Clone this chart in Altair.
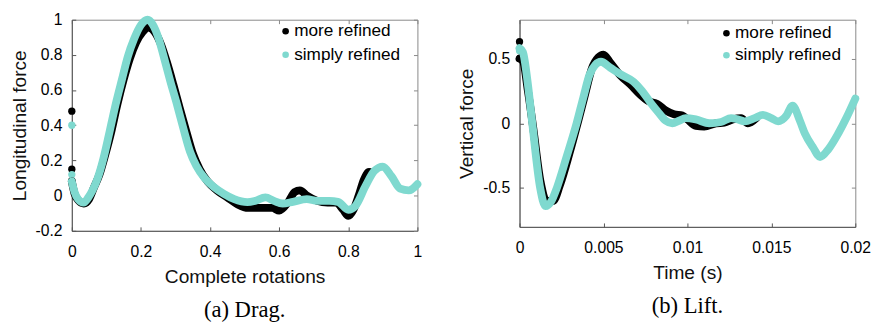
import altair as alt
import pandas as pd

SERIES = ["more refined", "simply refined"]
COLORS = ["#000000", "#7fd9cf"]

# ---------------- (a) Drag ----------------
drag_more_x = [0.0, 0.008, 0.018, 0.035, 0.05, 0.065, 0.08, 0.095, 0.115, 0.132, 0.15, 0.168, 0.186,
               0.205, 0.222, 0.24, 0.258, 0.275, 0.294, 0.312, 0.332, 0.35, 0.37, 0.393, 0.42, 0.45,
               0.48, 0.51, 0.55, 0.58, 0.6, 0.625, 0.645, 0.66, 0.68, 0.71, 0.74, 0.765, 0.785, 0.8,
               0.815, 0.83, 0.845, 0.86, 0.868]
drag_more_y = [0.08, 0.01, -0.025, -0.045, -0.02, 0.05, 0.12, 0.22, 0.37, 0.52, 0.66, 0.78, 0.87,
               0.93, 0.955, 0.93, 0.86, 0.76, 0.63, 0.5, 0.36, 0.24, 0.15, 0.08, 0.03, -0.01,
               -0.05, -0.07, -0.07, -0.07, -0.085, -0.04, 0.02, 0.03, 0.0, -0.03, -0.04, -0.04, -0.08, -0.115,
               -0.08, 0.0, 0.09, 0.135, 0.13]
drag_simply_x = [0.0, 0.008, 0.018, 0.034, 0.048, 0.06, 0.075, 0.09, 0.11, 0.127, 0.145, 0.162, 0.18,
                 0.2, 0.219, 0.235, 0.25, 0.266, 0.285, 0.304, 0.323, 0.342, 0.36, 0.384, 0.41, 0.44,
                 0.47, 0.508, 0.53, 0.56, 0.585, 0.61, 0.64, 0.68, 0.71, 0.745, 0.77, 0.8, 0.82,
                 0.85, 0.875, 0.9, 0.925, 0.95, 0.975, 1.0]
drag_simply_y = [0.08, 0.02, -0.02, -0.04, -0.01, 0.03, 0.1, 0.2, 0.37, 0.52, 0.66, 0.79, 0.89,
                 0.97, 1.0, 0.97, 0.9, 0.79, 0.65, 0.52, 0.38, 0.25, 0.17, 0.1, 0.05, 0.01,
                 -0.02, -0.037, -0.03, -0.01, -0.03, -0.045, -0.035, -0.02, -0.03, -0.03, -0.035, -0.08, -0.06,
                 0.055, 0.14, 0.165, 0.11, 0.04, 0.03, 0.065]
drag_dots_more = [0.48, 0.15, 0.085]
drag_dots_simply = [0.40, 0.12]

# ---------------- (b) Lift ----------------
lift_more_t = [0.0, 0.0002, 0.0005, 0.0008, 0.00125, 0.0016, 0.002, 0.0024, 0.003, 0.0035, 0.0039,
               0.0043, 0.0047, 0.005, 0.0054, 0.006, 0.0066, 0.0072, 0.0077, 0.0082, 0.0087, 0.0092,
               0.0097, 0.01, 0.0105, 0.011, 0.0117, 0.0122, 0.0127, 0.0132, 0.0136, 0.0141]
lift_more_y = [0.5, 0.48, 0.25, -0.02, -0.45, -0.6, -0.6, -0.48, -0.22, 0.02, 0.22,
               0.42, 0.51, 0.53, 0.47, 0.37, 0.3, 0.22, 0.17, 0.15, 0.1, 0.07,
               0.06, 0.03, -0.02, -0.025, 0.0, 0.005, 0.03, 0.04, 0.0, 0.04]
lift_simply_t = [0.0, 0.0002, 0.0005, 0.00076, 0.00123, 0.00154, 0.0019, 0.00222, 0.0028, 0.0034, 0.0038,
                 0.00417, 0.0045, 0.00485, 0.0054, 0.006, 0.0068, 0.0073, 0.0078, 0.0083, 0.0087, 0.0091,
                 0.0095, 0.0099, 0.0105, 0.0113, 0.012, 0.0126, 0.013, 0.0134, 0.014, 0.0145, 0.0150,
                 0.0154, 0.0159, 0.01626, 0.0167, 0.017, 0.0175, 0.0179, 0.0184, 0.019, 0.0195, 0.02]
lift_simply_y = [0.58, 0.55, 0.3, 0.0, -0.5, -0.64, -0.6, -0.5, -0.26, 0.0, 0.2,
                 0.375, 0.45, 0.475, 0.43, 0.38, 0.32, 0.25, 0.16, 0.08, 0.02, 0.0,
                 0.02, 0.04, 0.03, 0.0, 0.01, 0.04, 0.03, 0.015, 0.04, 0.065, 0.04,
                 0.015, 0.06, 0.137, 0.02, -0.08, -0.19, -0.26, -0.2, -0.075, 0.05, 0.19]
lift_dots_more = [0.63, 0.5]
lift_dots_simply = [0.56]


def frame(mx, my, sx, sy):
    rows = [{"x": a, "y": b, "series": SERIES[0]} for a, b in zip(mx, my)]
    rows += [{"x": a, "y": b, "series": SERIES[1]} for a, b in zip(sx, sy)]
    return pd.DataFrame(rows)


def dots_frame(more, simply):
    rows = [{"x": 0.0, "y": v, "series": SERIES[0]} for v in more]
    rows += [{"x": 0.0, "y": v, "series": SERIES[1]} for v in simply]
    return pd.DataFrame(rows)


INWARD = alt.ExprRef(expr="-4")


def panel(lines_df, dots_df, xdom, ydom, xvals, yvals, xtitle, ytitle, caption, w, h, legx, legy, rowpad):
    xs = alt.Scale(domain=xdom, nice=False, zero=False)
    ys = alt.Scale(domain=ydom, nice=False, zero=False)
    xaxis = alt.Axis(values=xvals, labelExpr="'' + datum.value", title=xtitle, tickSize=INWARD,
                     labelPadding=17, titlePadding=9, labelFlush=False, labelOverlap=False,
                     domainColor="#555", tickColor="#555")
    yaxis = alt.Axis(values=yvals, labelExpr="'' + datum.value", title=ytitle, tickSize=INWARD,
                     labelPadding=14, titlePadding=6, labelOverlap=False,
                     domainColor="#555", tickColor="#555")
    cscale = alt.Scale(domain=SERIES, range=COLORS)
    color_nolegend = alt.Color("series:N", scale=cscale, legend=None)
    color_legend = alt.Color(
        "series:N", scale=cscale,
        legend=alt.Legend(title=None, orient="none", legendX=legx, legendY=legy, padding=0,
                          labelFontSize=17.5, labelFont="Liberation Sans", labelColor="black",
                          symbolSize=45, symbolType="circle", rowPadding=rowpad, labelOffset=0))
    dots = alt.Chart(dots_df).mark_circle(size=55, opacity=1).encode(
        x=alt.X("x:Q", scale=xs, axis=xaxis),
        y=alt.Y("y:Q", scale=ys, axis=yaxis),
        color=color_legend,
    )
    lines = alt.Chart(lines_df).mark_line(
        strokeWidth=8, strokeCap="round", strokeJoin="round", interpolate="monotone"
    ).encode(
        x=alt.X("x:Q", scale=xs, axis=None),
        y=alt.Y("y:Q", scale=ys, axis=None),
        color=color_nolegend,
    )
    mirror = alt.Chart(dots_df).mark_point(opacity=0).encode(
        x=alt.X("x:Q", scale=xs, axis=alt.Axis(orient="top", values=xvals, labels=False, title=None,
                                                domain=False, tickSize=INWARD, tickColor="#888",
                                                minExtent=0, maxExtent=0)),
        y=alt.Y("y:Q", scale=ys, axis=alt.Axis(orient="right", values=yvals, labels=False, title=None,
                                                domain=False, tickSize=INWARD, tickColor="#888",
                                                minExtent=0, maxExtent=0)),
    )
    return alt.layer(dots, lines, mirror).resolve_axis(
        x="independent", y="independent"
    ).resolve_scale(color="independent").properties(
        width=w, height=h,
        title=alt.TitleParams(caption, orient="bottom", font="Liberation Serif", fontSize=23,
                              fontWeight="normal", color="black", anchor="middle", offset=13),
    )


drag_lines = frame(drag_more_x, drag_more_y, drag_simply_x, drag_simply_y)
lift_lines = frame(lift_more_t, lift_more_y, lift_simply_t, lift_simply_y)

left = panel(drag_lines, dots_frame(drag_dots_more, drag_dots_simply),
             [0, 1], [-0.2, 1], [0, 0.2, 0.4, 0.6, 0.8, 1], [-0.2, 0, 0.2, 0.4, 0.6, 0.8, 1],
             "Complete rotations", "Longitudinal force", "(a) Drag.", 352, 215, 209, 3, 5)
right = panel(lift_lines, dots_frame(lift_dots_more, lift_dots_simply),
              [0, 0.02], [-0.8, 0.8], [0, 0.005, 0.01, 0.015, 0.02], [-0.5, 0, 0.5],
              "Time (s)", "Vertical force", "(b) Lift.", 342, 211, 202, 5, 3.5)

chart = alt.hconcat(left, right, spacing=34).resolve_scale(color="independent").properties(
    padding={"left": 0, "top": 0, "right": 0, "bottom": 0}
).configure(
    font="Liberation Sans"
).configure_view(
    stroke="#888", strokeWidth=1
).configure_axis(
    grid=False, labelFontSize=16, titleFontSize=19.5, titleFontWeight="normal",
    labelColor="black", titleColor="#111", labelFont="Liberation Sans", titleFont="Liberation Sans"
)

chart.save("out.html", embed_options={"renderer": "svg", "actions": False})
